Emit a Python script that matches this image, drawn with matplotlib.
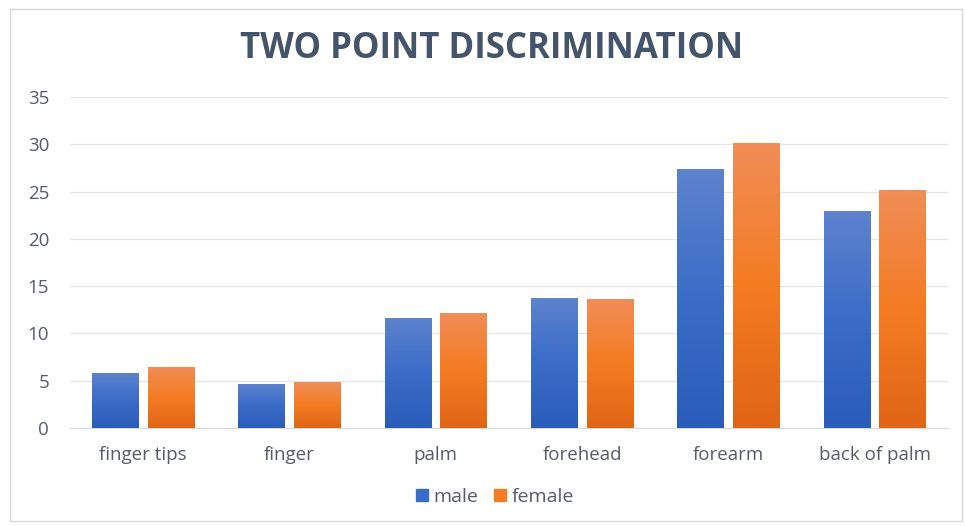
import numpy as np
import matplotlib.pyplot as plt
from matplotlib.patches import Rectangle
from matplotlib.colors import LinearSegmentedColormap

categories = ['finger tips', 'finger', 'palm', 'forehead', 'forearm', 'back of palm']
male = [5.85, 4.7, 11.65, 13.75, 27.4, 22.95]
female = [6.5, 4.85, 12.15, 13.6, 30.1, 25.15]
yticks = [0, 5, 10, 15, 20, 25, 30, 35]

plt.rcParams['font.family'] = ['Open Sans', 'DejaVu Sans']

blue_cmap = LinearSegmentedColormap.from_list('b', ['#2a5cb9', '#3a6cc8', '#5e83cd'])
orange_cmap = LinearSegmentedColormap.from_list('o', ['#e06516', '#f47c22', '#f08d57'])
label_color = '#575c68'

fig = plt.figure(figsize=(9.65, 5.26), dpi=100)
fig.patches.append(Rectangle((10 / 965, 5 / 526), 952 / 965, 512 / 526, transform=fig.transFigure,
                             fill=False, edgecolor='#d9d9d9', linewidth=1))
ax = fig.add_axes([70 / 965, 1 - 428 / 526, 878 / 965, 331 / 526])

x = np.arange(len(categories))
w = 0.318
off = 0.19

def gradient_bars(xs, vals, cmap, label):
    bars = ax.bar(xs, vals, w, color='none', edgecolor='none', label=label, zorder=3)
    grad = np.linspace(0, 1, 256).reshape(-1, 1)
    for b in bars:
        x0, y0 = b.get_x(), b.get_y()
        im = ax.imshow(grad, cmap=cmap, aspect='auto', origin='lower',
                       extent=[x0, x0 + b.get_width(), y0, y0 + b.get_height()], zorder=3)
        im.set_clip_path(b)
    return bars

gradient_bars(x - off, male, blue_cmap, 'male')
gradient_bars(x + off, female, orange_cmap, 'female')

ax.set_xlim(-0.5, len(categories) - 0.5)
ax.set_ylim(0, 35)
ax.set_yticks(yticks)
ax.set_xticks(x)
ax.set_xticklabels(categories)
ax.tick_params(axis='both', length=0, labelsize=13.5, colors=label_color)
ax.tick_params(axis='y', pad=15)
ax.tick_params(axis='x', pad=13)
ax.grid(axis='y', color='#e6e6e6', linewidth=1, zorder=0)
for s in ['top', 'right', 'left']:
    ax.spines[s].set_visible(False)
ax.spines['bottom'].set_color('#d9d9d9')

fig.text(492 / 965, 1 - 49 / 526, 'TWO POINT DISCRIMINATION', ha='center', va='center',
         fontsize=25, fontweight='bold', color='#44546a')

handles = [Rectangle((0, 0), 1, 1, color='#3a6cc8'), Rectangle((0, 0), 1, 1, color='#f47c22')]
fig.legend(handles, ['male', 'female'], loc='center', bbox_to_anchor=(495 / 965, 1 - 497 / 526),
           ncol=2, frameon=False, fontsize=14, handlelength=0.6, handleheight=0.6,
           handletextpad=0.3, columnspacing=0.8, labelcolor=label_color)

fig.savefig('out.png', dpi=100)
